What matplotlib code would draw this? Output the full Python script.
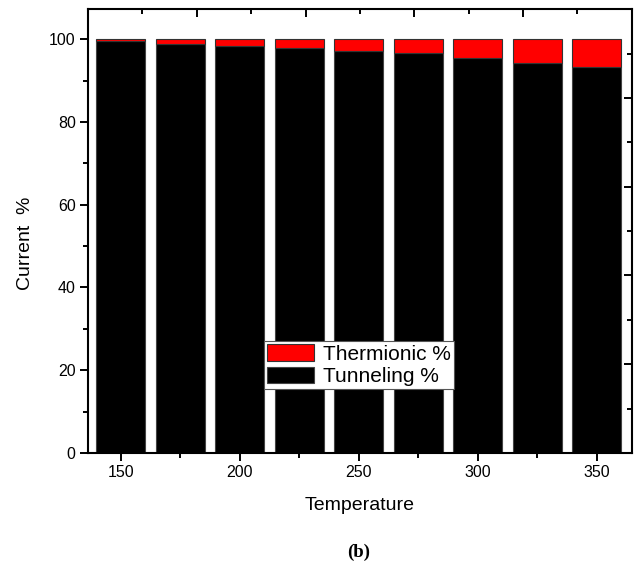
#!/usr/bin/env python3
"""Stacked bar chart: tunneling vs thermionic current share against temperature."""

import matplotlib
matplotlib.use("Agg")
import matplotlib.pyplot as plt
from matplotlib.ticker import MultipleLocator

plt.rcParams["font.family"] = ["Liberation Sans", "DejaVu Sans"]

temperature = [150, 175, 200, 225, 250, 275, 300, 325, 350]
tunneling = [99.5, 98.95, 98.5, 97.9, 97.2, 96.8, 95.5, 94.4, 93.3]
thermionic = [0.5, 1.05, 1.5, 2.1, 2.8, 3.2, 4.5, 5.6, 6.7]

fig = plt.figure(figsize=(6.34, 5.64), dpi=100)
rect = [0.139, 0.197, 0.8576, 0.7867]
ax = fig.add_axes(rect)

bar_tun = ax.bar(temperature, tunneling, width=20.6, color="black",
                 edgecolor="#444444", linewidth=0.8, label="Tunneling %")
bar_the = ax.bar(temperature, thermionic, width=20.6, bottom=tunneling, color="#ff0000",
                 edgecolor="#333333", linewidth=0.8, label="Thermionic %")

ax.set_xlim(136.3, 364.7)
ax.set_ylim(0, 107.3)
ax.xaxis.set_major_locator(MultipleLocator(50))
ax.xaxis.set_minor_locator(MultipleLocator(25))
ax.yaxis.set_major_locator(MultipleLocator(20))
ax.yaxis.set_minor_locator(MultipleLocator(10))
ax.tick_params(which="major", direction="out", length=6, width=1.4, labelsize=11.5, pad=3)
ax.tick_params(which="minor", direction="out", length=3.5, width=1.4)
for side in ax.spines.values():
    side.set_linewidth(1.5)

ax.set_xlabel("Temperature", fontsize=14, labelpad=12)
ax.set_ylabel("Current  %", fontsize=14)
ax.yaxis.set_label_coords(-0.099, 0.473)

leg = ax.legend([bar_the, bar_tun], ["Thermionic %", "Tunneling %"],
                loc="upper left", bbox_to_anchor=(0.323, 0.252), fontsize=15,
                frameon=True, fancybox=False, framealpha=1, edgecolor="#555555",
                borderpad=0.15, labelspacing=0.15, handlelength=2.25,
                handleheight=0.85, handletextpad=0.45, borderaxespad=0)
leg.get_frame().set_linewidth(0.8)

# tick marks on the top and right edges (unlabelled second axes)
ax2 = fig.add_axes(rect, frameon=False)
ax2.set_xlim(0, 1)
ax2.set_ylim(0, 1)
ax2.xaxis.tick_top()
ax2.yaxis.tick_right()
ax2.xaxis.set_major_locator(MultipleLocator(0.2))
ax2.xaxis.set_minor_locator(MultipleLocator(0.1))
ax2.yaxis.set_major_locator(MultipleLocator(0.2))
ax2.yaxis.set_minor_locator(MultipleLocator(0.1))
ax2.tick_params(which="major", direction="in", length=6, width=1.4,
                labeltop=False, labelright=False)
ax2.tick_params(which="minor", direction="in", length=3.5, width=1.4)
ax2.patch.set_visible(False)

fig.text(0.566, 0.006, "(b)", fontsize=13.5, fontweight="bold",
         family=["Liberation Serif", "DejaVu Serif"], ha="center", va="bottom")

fig.savefig("out.png", dpi=100)
